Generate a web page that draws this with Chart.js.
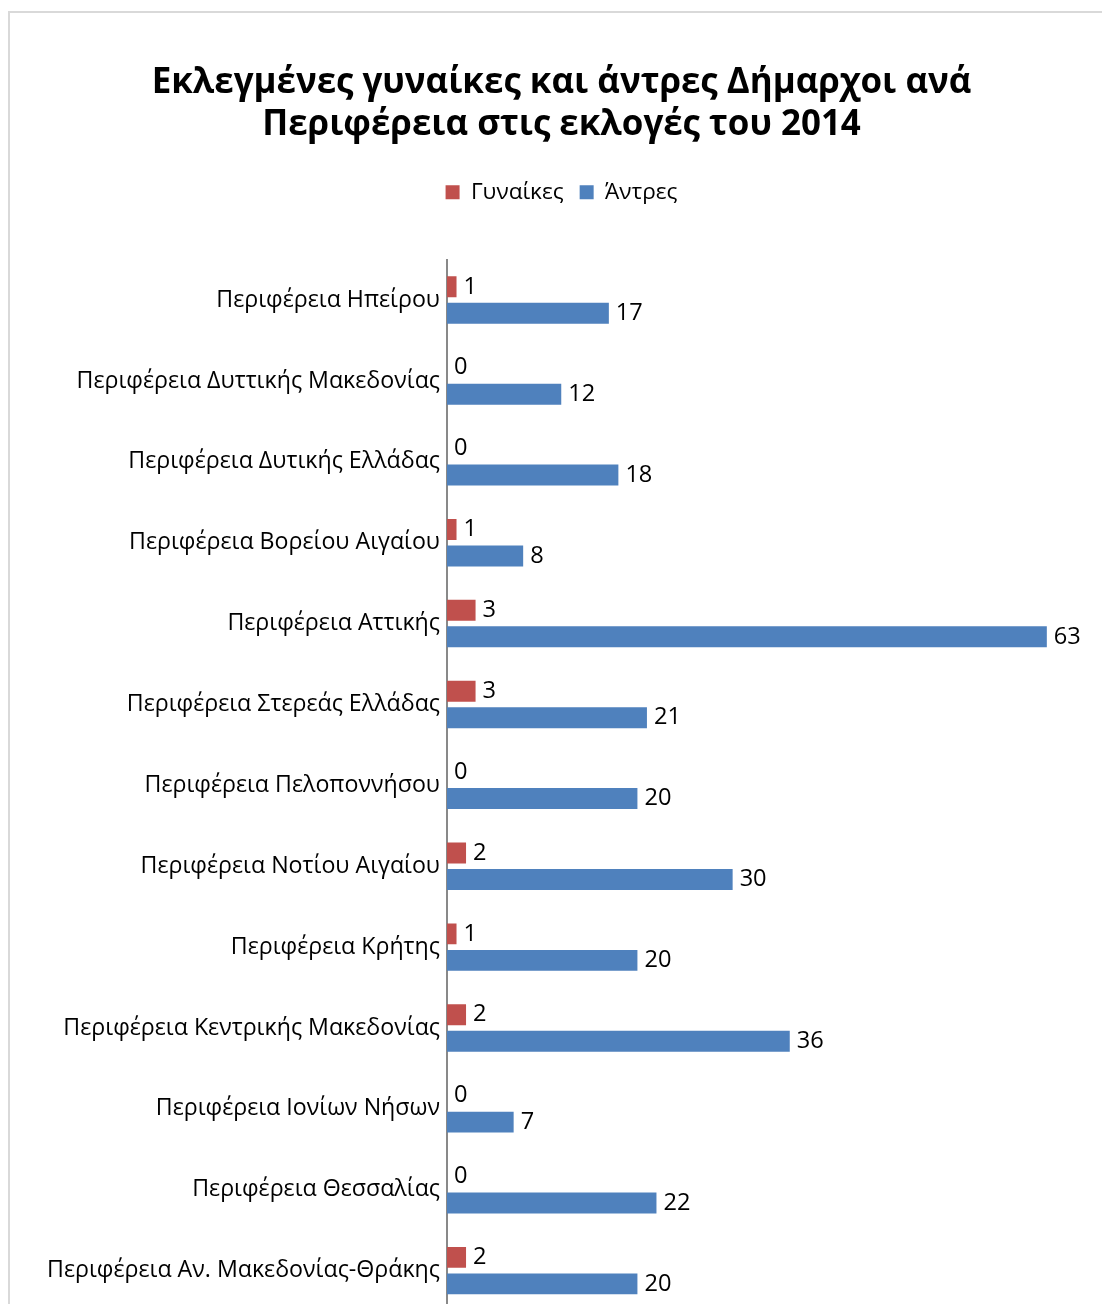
<!DOCTYPE html>
<html>
<head>
<meta charset="utf-8">
<script src="https://cdn.jsdelivr.net/npm/chart.js@4"></script>
<style>
html, body { margin:0; padding:0; width:1102px; height:1304px; overflow:hidden; background:#fff; }
#frame { position:absolute; left:8px; top:11px; width:1200px; height:1400px; border:2px solid #d9d9d9; box-sizing:border-box; }
#wrap { position:absolute; left:0; top:0; width:1123px; height:1332px; }
</style>
</head>
<body>
<div id="frame"></div>
<div id="wrap"><canvas id="c" width="1123" height="1332"></canvas></div>
<script>
const titleLines = ['Εκλεγμένες γυναίκες και άντρες Δήμαρχοι ανά', 'Περιφέρεια στις εκλογές του 2014'];
const categories = [
  'Περιφέρεια Ηπείρου',
  'Περιφέρεια Δυττικής Μακεδονίας',
  'Περιφέρεια Δυτικής Ελλάδας',
  'Περιφέρεια Βορείου Αιγαίου',
  'Περιφέρεια Αττικής',
  'Περιφέρεια Στερεάς Ελλάδας',
  'Περιφέρεια Πελοποννήσου',
  'Περιφέρεια Νοτίου Αιγαίου',
  'Περιφέρεια Κρήτης',
  'Περιφέρεια Κεντρικής Μακεδονίας',
  'Περιφέρεια Ιονίων Νήσων',
  'Περιφέρεια Θεσσαλίας',
  'Περιφέρεια Αν. Μακεδονίας-Θράκης'
];
const women = [1, 0, 0, 1, 3, 3, 0, 2, 1, 2, 0, 0, 2];
const men = [17, 12, 18, 8, 63, 21, 20, 30, 20, 36, 7, 22, 20];
const seriesNames = ['Γυναίκες', 'Άντρες'];

const FAMILY = "'Open Sans', 'Noto Sans', sans-serif";
const mctx = document.createElement('canvas').getContext('2d');
function fitSize(text, target, weight) {
  mctx.font = (weight || '') + ' 100px ' + FAMILY;
  return Math.round(100 * target / mctx.measureText(text).width * 10) / 10;
}
const titleSize = fitSize(titleLines[0], 819, 'bold');
const catSize = fitSize(categories[12], 393);
const valSize = fitSize('63', 27);
const legSize = fitSize(seriesNames[0], 93);

const legendGap = {
  id: 'legendGap',
  beforeInit(chart) {
    const origFit = chart.legend.fit;
    chart.legend.fit = function () {
      origFit.bind(chart.legend)();
      this.height += 46;
    };
  }
};

const valueLabels = {
  id: 'valueLabels',
  afterDatasetsDraw(chart) {
    const ctx = chart.ctx;
    ctx.save();
    ctx.font = valSize + 'px ' + FAMILY;
    ctx.fillStyle = '#000';
    ctx.textAlign = 'left';
    ctx.textBaseline = 'middle';
    chart.data.datasets.forEach((ds, di) => {
      const meta = chart.getDatasetMeta(di);
      meta.data.forEach((el, i) => {
        ctx.fillText(String(ds.data[i]), el.x + 7, el.y);
      });
    });
    ctx.restore();
  }
};

new Chart(document.getElementById('c'), {
  type: 'bar',
  data: {
    labels: categories,
    datasets: [
      { label: seriesNames[0], data: women, backgroundColor: '#C0504D', categoryPercentage: 0.655, barPercentage: 0.79 },
      { label: seriesNames[1], data: men, backgroundColor: '#4F81BD', categoryPercentage: 0.655, barPercentage: 0.79 }
    ]
  },
  options: {
    indexAxis: 'y',
    responsive: false,
    animation: false,
    layout: { padding: { left: 0, right: 0, top: 0, bottom: 0 } },
    plugins: {
      title: {
        display: true,
        text: titleLines,
        color: '#000',
        font: { family: FAMILY, size: titleSize, weight: 'bold', lineHeight: 42 / titleSize },
        padding: { top: 62, bottom: 19 }
      },
      legend: {
        display: true,
        position: 'top',
        labels: {
          color: '#000',
          font: { family: FAMILY, size: legSize },
          boxWidth: 14,
          boxHeight: 14,
          padding: 16
        }
      },
      tooltip: { enabled: false }
    },
    scales: {
      x: {
        display: false,
        min: 0,
        max: 71
      },
      y: {
        afterFit(scale) { scale.width = 447; },
        grid: { display: false, drawTicks: false },
        border: { display: true, color: '#898989', width: 2 },
        ticks: {
          color: '#000',
          padding: 7,
          font: { family: FAMILY, size: catSize }
        }
      }
    }
  },
  plugins: [legendGap, valueLabels]
});
</script>
</body>
</html>
